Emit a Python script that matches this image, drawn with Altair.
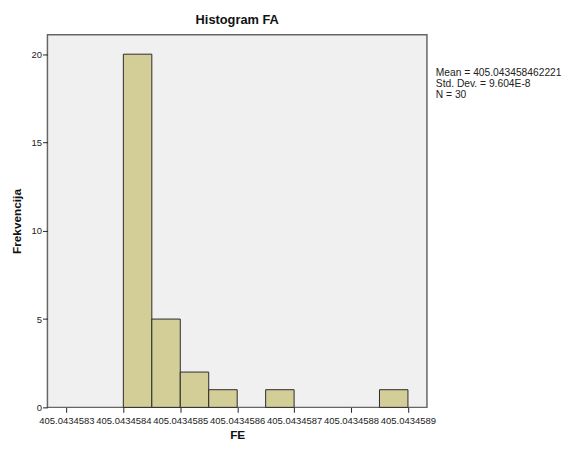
import altair as alt
import pandas as pd

# Histogram bins, in units of 1e-7 above 405.043458
bin_start = [4.0, 4.5, 5.0, 5.5, 6.5, 8.5]
bin_end = [4.5, 5.0, 5.5, 6.0, 7.0, 9.0]
counts = [20, 5, 2, 1, 1, 1]

x_ticks = [3, 4, 5, 6, 7, 8, 9]
x_tick_labels = ["405.0434583", "405.0434584", "405.0434585", "405.0434586",
                 "405.0434587", "405.0434588", "405.0434589"]
y_ticks = [0, 5, 10, 15, 20]

stats_lines = ["Mean = 405.043458462221", "Std. Dev. = 9.604E-8", "N = 30"]

df = pd.DataFrame({"start": bin_start, "end": bin_end, "count": counts})

label_map = "{" + ",".join(f"'{t}':'{l}'" for t, l in zip(x_ticks, x_tick_labels)) + "}"
label_expr = f"{label_map}[''+datum.value]"

FONT = "Liberation Sans"

bars = alt.Chart(df).mark_bar(
    fill="#D3CE97", stroke="#2a2a2a", strokeWidth=1
).encode(
    x=alt.X("start:Q",
            scale=alt.Scale(domain=[2.666, 9.334], nice=False, zero=False),
            axis=alt.Axis(values=x_ticks, labelExpr=label_expr, title="FE",
                          grid=False, domain=False, tickColor="#222", tickSize=5,
                          labelFont=FONT, labelFontSize=9.6, labelColor="#222",
                          labelPadding=3, labelOverlap=False, labelFlush=False,
                          titleFont=FONT, titleFontSize=12, titleFontWeight="bold",
                          titleColor="#111", titlePadding=5)),
    x2="end:Q",
    y=alt.Y("count:Q",
            scale=alt.Scale(domain=[0, 21.1], nice=False),
            axis=alt.Axis(values=y_ticks, title="Frekvencija", grid=False,
                          domain=False, tickColor="#222", tickSize=5,
                          labelFont=FONT, labelFontSize=9.6, labelColor="#222",
                          labelPadding=1,
                          titleFont=FONT, titleFontSize=12, titleFontWeight="bold",
                          titleColor="#111", titlePadding=8)),
    y2=alt.datum(0),
)

stats = alt.Chart(pd.DataFrame({"t": ["\n".join(stats_lines)]})).mark_text(
    align="left", baseline="top", font=FONT, fontSize=10.4, color="#222",
    lineBreak="\n", lineHeight=11
).encode(
    x=alt.value(394), y=alt.value(34), text="t:N"
)

chart = alt.layer(bars, stats).properties(
    width=385, height=378,
    title=alt.Title("Histogram FA", font=FONT, fontSize=13, fontWeight="bold",
                    color="#111", offset=8),
    autosize=alt.AutoSizeParams(type="none"),
    padding={"left": 40, "top": 24, "right": 137, "bottom": 32},
).configure_view(
    fill="#F0F0F0", stroke="#666", strokeWidth=1.5
)

chart.save("out.html", embed_options={"renderer": "svg", "actions": False})
